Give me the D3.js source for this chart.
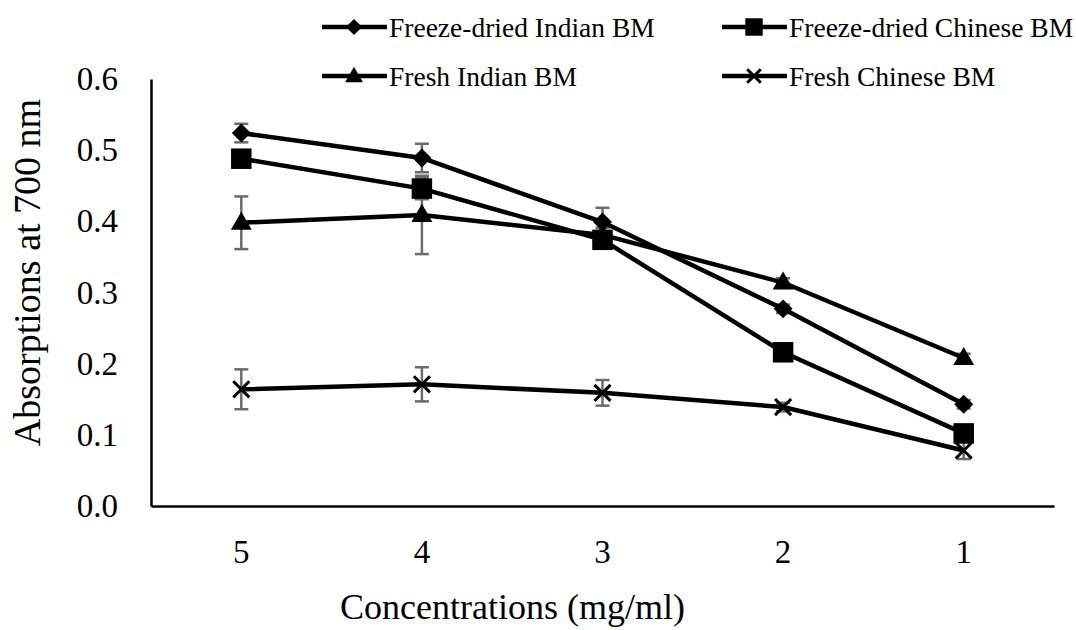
<!DOCTYPE html>
<html>
<head>
<meta charset="utf-8">
<script src="https://cdn.jsdelivr.net/npm/d3@7"></script>
<style>
  body { margin: 0; background: #fff; }
  text { font-family: "Liberation Serif", "Times New Roman", serif; fill: #000; }
</style>
</head>
<body>
<div class="chart"></div>
<script>
// Data
let concentrations = ["5", "4", "3", "2", "1"];
let seriesNames = ["Freeze-dried Indian BM", "Freeze-dried Chinese BM", "Fresh Indian BM", "Fresh Chinese BM"];
let freezeIndian = [0.524, 0.489, 0.399, 0.277, 0.143];
let freezeChinese = [0.488, 0.446, 0.374, 0.216, 0.102];
let freshIndian = [0.398, 0.409, 0.381, 0.314, 0.208];
let freshChinese = [0.164, 0.171, 0.159, 0.139, 0.078];
let freezeIndianErr = [0.013, 0.02, 0.02, 0.006, 0.006];
let freezeChineseErr = [0.01, 0.015, 0.01, 0.006, 0.01];
let freshIndianErr = [0.037, 0.055, 0.01, 0.006, 0.006];
let freshChineseErr = [0.028, 0.024, 0.018, 0.006, 0.012];
let yTicks = [0, 0.1, 0.2, 0.3, 0.4, 0.5, 0.6];

let allValues = [freezeIndian, freezeChinese, freshIndian, freshChinese];
let allErrors = [freezeIndianErr, freezeChineseErr, freshIndianErr, freshChineseErr];
let markers = ["diamond", "square", "triangle", "x"];

let width = 1076, height = 630;
let margin = { top: 79, right: 22, bottom: 124, left: 151 };

let svg = d3.select(".chart").append("svg")
    .attr("width", width)
    .attr("height", height);

let x = d3.scaleBand()
    .domain(concentrations)
    .range([margin.left, width - margin.right]);

let y = d3.scaleLinear()
    .domain([0, 0.6])
    .range([height - margin.bottom, margin.top]);

// Axes
let yAxis = svg.append("g")
    .attr("transform", `translate(${margin.left},0)`)
    .call(d3.axisLeft(y).tickValues(yTicks).tickFormat(d3.format(".1f")).tickSize(0).tickPadding(33));
yAxis.selectAll("text").style("font-size", "33px");

let xAxis = svg.append("g")
    .attr("transform", `translate(0,${height - margin.bottom})`)
    .call(d3.axisBottom(x).tickSize(0).tickPadding(34));
xAxis.selectAll("text").style("font-size", "33px");

svg.selectAll(".domain")
    .attr("stroke", "#000")
    .attr("stroke-width", 2.5);

svg.append("text")
    .attr("x", (margin.left + width - margin.right) / 2 - 90)
    .attr("y", 619)
    .attr("text-anchor", "middle")
    .style("font-size", "36px")
    .text("Concentrations (mg/ml)");

svg.append("text")
    .attr("transform", `translate(40,${(margin.top + height - margin.bottom) / 2 - 20}) rotate(-90)`)
    .attr("text-anchor", "middle")
    .style("font-size", "38px")
    .text("Absorptions at 700 nm");

// marker helper
function drawMarker(g, type, cx, cy, scale) {
    let s = scale || 1;
    if (type === "diamond") {
        g.append("path")
            .attr("d", d3.symbol(d3.symbolSquare, 180 * s * s)())
            .attr("transform", `translate(${cx},${cy}) rotate(45)`)
            .attr("fill", "#000");
    } else if (type === "square") {
        g.append("path")
            .attr("d", d3.symbol(d3.symbolSquare, 420 * s * s)())
            .attr("transform", `translate(${cx},${cy})`)
            .attr("fill", "#000");
    } else if (type === "triangle") {
        g.append("path")
            .attr("d", d3.symbol(d3.symbolTriangle, 190 * s * s)())
            .attr("transform", `translate(${cx},${cy + 1})`)
            .attr("fill", "#000");
    } else {
        g.append("path")
            .attr("d", d3.symbol(d3.symbolX, 170 * s * s)())
            .attr("transform", `translate(${cx},${cy})`)
            .attr("fill", "none")
            .attr("stroke", "#000")
            .attr("stroke-width", 3);
    }
}

let cx = d => x(d) + x.bandwidth() / 2;

// Error bars (under the lines)
let errG = svg.append("g");
allValues.forEach((vals, i) => {
    vals.forEach((v, j) => {
        let e = allErrors[i][j];
        let px = cx(concentrations[j]);
        errG.append("line")
            .attr("x1", px).attr("x2", px)
            .attr("y1", y(v - e)).attr("y2", y(v + e))
            .attr("stroke", "#6b6b6b").attr("stroke-width", 2.5);
        [v - e, v + e].forEach(t => {
            errG.append("line")
                .attr("x1", px - 7).attr("x2", px + 7)
                .attr("y1", y(t)).attr("y2", y(t))
                .attr("stroke", "#6b6b6b").attr("stroke-width", 2.5);
        });
    });
});

// Lines
let line = d3.line()
    .x((d, j) => cx(concentrations[j]))
    .y(d => y(d));

allValues.forEach((vals, i) => {
    svg.append("path")
        .datum(vals)
        .attr("d", line)
        .attr("fill", "none")
        .attr("stroke", "#000")
        .attr("stroke-width", 4.5);
});

// Markers
let markG = svg.append("g");
allValues.forEach((vals, i) => {
    vals.forEach((v, j) => {
        drawMarker(markG, markers[i], cx(concentrations[j]), y(v));
    });
});

// Legend
let legendPos = [[322, 27], [722, 27], [322, 76], [722, 76]];
seriesNames.forEach((name, i) => {
    let lx = legendPos[i][0], ly = legendPos[i][1];
    let lg = svg.append("g");
    lg.append("line")
        .attr("x1", lx).attr("x2", lx + 65)
        .attr("y1", ly).attr("y2", ly)
        .attr("stroke", "#000").attr("stroke-width", 4.5);
    drawMarker(lg, markers[i], lx + 32, ly, 0.85);
    lg.append("text")
        .attr("x", lx + 67)
        .attr("y", ly)
        .attr("dy", "0.35em")
        .style("font-size", "27.5px")
        .text(name);
});
</script>
</body>
</html>
